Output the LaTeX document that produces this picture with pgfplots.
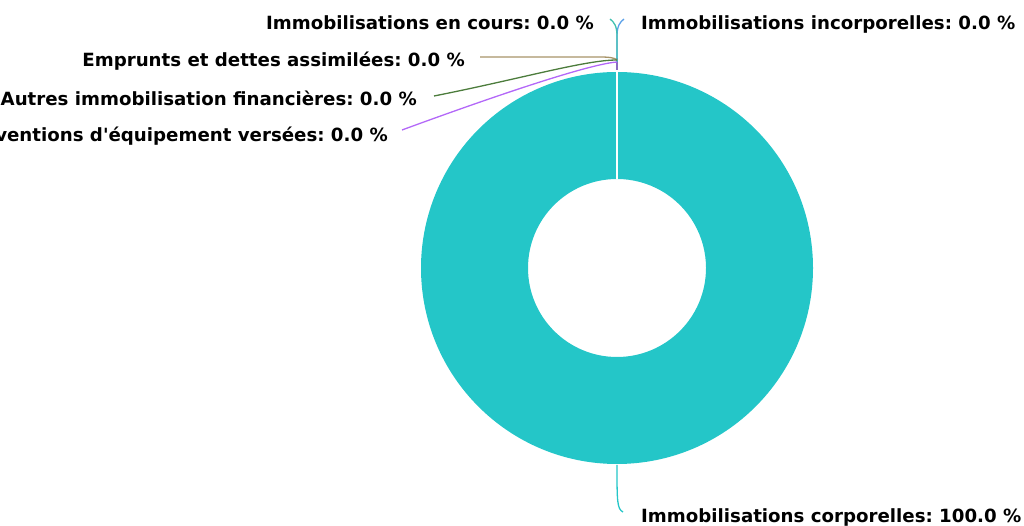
\documentclass[border=0pt]{standalone}
\usepackage{pgfplots}
\pgfplotsset{compat=1.18}
\usepackage{fontspec}
\setmainfont{DejaVu Sans}
\newfontfamily\labfont{DejaVu Sans}
\frenchspacing
\definecolor{corp}{HTML}{24C6C8}
\definecolor{incorp}{HTML}{5AA0E8}
\definecolor{encours}{HTML}{40C0B0}
\definecolor{empr}{HTML}{A89468}
\definecolor{autres}{HTML}{4C7C3C}
\definecolor{subv}{HTML}{B368F8}
\definecolor{stub}{HTML}{8A6CC0}
% values (percent)
\def\vCorp{100.0}
\def\vIncorp{0.0}
\def\vEncours{0.0}
\def\vEmpr{0.0}
\def\vAutres{0.0}
\def\vSubv{0.0}
\begin{document}
\begin{tikzpicture}
\begin{axis}[
  width=1024pt, height=526pt, scale only axis,
  xmin=0, xmax=1024, ymin=0, ymax=526,
  hide axis, clip=false,
]
% ring slice for Immobilisations corporelles (value -> sweep angle)
\pgfmathsetmacro{\sweep}{3.6*\vCorp}
\fill[corp] (axis cs:617,258) ++(90:196pt) arc[start angle=90, delta angle=-\sweep, radius=196pt]
  -- ++({90-\sweep}:-107pt) arc[start angle={90-\sweep}, delta angle=\sweep, radius=89pt] -- cycle;
\draw[white, line width=2pt] (axis cs:617,347) -- (axis cs:617,455);
% zero-size slices stub
\draw[stub, line width=2.5pt] (axis cs:617,456) -- (axis cs:617,468);
% connectors
\draw[corp, line width=1.3pt] (axis cs:617,61) .. controls (axis cs:617,25) and (axis cs:617,17) .. (axis cs:623,14);
\draw[incorp, line width=1.3pt] (axis cs:617,464) -- (axis cs:617,490) .. controls (axis cs:617,500) and (axis cs:620,504) .. (axis cs:624,507);
\draw[encours, line width=1.3pt] (axis cs:617,464) -- (axis cs:617,490) .. controls (axis cs:617,500) and (axis cs:614,504) .. (axis cs:610,507);
\draw[empr, line width=1.3pt] (axis cs:480,469) -- (axis cs:600,469) .. controls (axis cs:610,469) and (axis cs:615,468) .. (axis cs:617,466);
\draw[autres, line width=1.3pt] (axis cs:434,430) .. controls (axis cs:520,447) and (axis cs:585,466) .. (axis cs:617,466);
\draw[subv, line width=1.3pt] (axis cs:402,396) .. controls (axis cs:500,432) and (axis cs:590,462) .. (axis cs:617,464);
% labels
\tikzset{lab/.style={font=\labfont\fontsize{18.2}{21}\selectfont\bfseries, text=black, inner sep=0pt}}
\node[lab, anchor=east] at (axis cs:594,503) {Immobilisations en cours: \vEncours{} \%};
\node[lab, anchor=west] at (axis cs:641,502) {Immobilisations incorporelles: \vIncorp{} \%};
\node[lab, anchor=east] at (axis cs:465,465) {Emprunts et dettes assimilées: \vEmpr{} \%};
\node[lab, anchor=east] at (axis cs:417,428) {Autres immobilisation financières: \vAutres{} \%};
\node[lab, anchor=east] at (axis cs:388,390) {Subventions d'équipement versées: \vSubv{} \%};
\node[lab, anchor=west] at (axis cs:641,9) {Immobilisations corporelles: \vCorp{} \%};
\end{axis}
\pgfresetboundingbox
\path[use as bounding box] (0,0) rectangle (1024pt,526pt);
\end{tikzpicture}
\end{document}
